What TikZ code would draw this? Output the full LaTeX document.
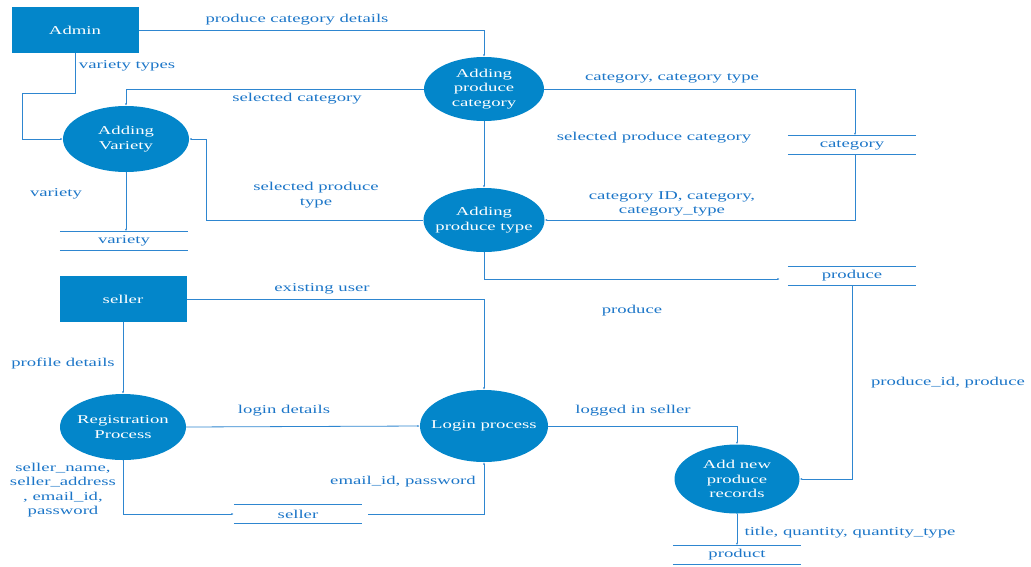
\documentclass[tikz,border=0pt]{standalone}
\usepackage{fontspec}
\setmainfont{Liberation Serif}[FakeStretch=1.56]
\usetikzlibrary{
  arrows.meta,
  shapes.geometric,
  positioning
}
\definecolor{dfdfill}{RGB}{3,134,202}
\definecolor{dfdline}{RGB}{46,134,208}
\definecolor{dfdtext}{RGB}{28,118,200}

\begin{document}
\begin{tikzpicture}[
  x=1pt,
  y=-1pt,
  >={Latex[length=2.5pt,width=2pt]},
  every node/.style={font=\fontsize{12}{14.5}\selectfont},
  entity/.style={rectangle, fill=dfdfill, text=white,
    minimum width=127, minimum height=46, inner sep=0pt},
  process/.style={ellipse, fill=dfdfill, text=white, align=center,
    inner sep=0pt},
  store/.style={minimum width=128, minimum height=19, inner sep=0pt,
    text=dfdtext,
    append after command={
      (\tikzlastnode.north west) edge[dfdline, thick] (\tikzlastnode.north east)
      (\tikzlastnode.south west) edge[dfdline, thick] (\tikzlastnode.south east)}},
  flow/.style={->, dfdline, thick},
  lbl/.style={text=dfdtext, align=center, inner sep=0pt, yshift=-2pt}
]
  \useasboundingbox (0,0) rectangle (1031,566);

  % External entities.
  \node[entity] (admin) at (75,30) {Admin};
  \node[entity] (seller) at (123,299) {seller};

  % Processes.
  \node[process, minimum width=120, minimum height=64] (apc) at (484,89)
    {Adding\\produce\\category};
  \node[process, minimum width=126, minimum height=66] (av) at (126,139)
    {Adding\\Variety};
  \node[process, minimum width=121, minimum height=64, inner xsep=-6pt]
    (apt) at (484,220) {Adding\\produce type};
  \node[process, minimum width=126, minimum height=66, inner xsep=-1.5pt]
    (reg) at (123,427) {Registration\\Process};
  \node[process, minimum width=128, minimum height=72, inner xsep=-7.5pt]
    (login) at (484,426) {Login process};
  \node[process, minimum width=125, minimum height=69] (anpr) at (737,479)
    {Add new\\produce\\records};

  % Data stores.
  \node[store] (catst) at (852,145) {category};
  \node[store] (varst) at (124,241) {variety};
  \node[store] (prodst) at (852,276) {produce};
  \node[store] (sellst) at (298,514) {seller};
  \node[store] (pst) at (737,555) {product};

  % Flows of the category part.
  \draw[flow] (admin.east) -| (apc.north);
  \draw[flow] (admin.south) |- (22,93) |- (av.west);
  \draw[flow] (apc.west) -| (av.north);
  \draw[flow] (apc.east) -| ([xshift=3]catst.north);
  \draw[flow] (apc.south) -- (apt.north);
  \draw[flow] ([xshift=3]catst.south) |- (apt.east);
  \draw[flow] (apt.west) -- (206,220) |- (av.east);
  \draw[flow] (av.south) -- (av.south |- varst.north);
  \draw[flow] (apt.south) |- ([xshift=-8,yshift=-3]prodst.west);

  % Flows of the seller part.
  \draw[flow] (seller.east) -| (login.north);
  \draw[flow] (seller.south) -- (reg.north);
  \draw[flow] (reg.east) -- (login.west);
  \draw[flow] (reg.south) |- (sellst.west);
  \draw[flow] ([xshift=6]sellst.east) -| (login.south);
  \draw[flow] (login.east) -| (anpr.north);
  \draw[flow] (prodst.south) |- (anpr.east);
  \draw[flow] (anpr.south) -- (anpr.south |- pst.north);

  % Flow labels.
  \node[lbl] (l1) at (297,18) {produce category details};
  \node[lbl] (l2) at (127,64) {variety types};
  \node[lbl] (l3) at (297,97) {selected category};
  \node[lbl] (l4) at (672,76) {category, category type};
  \node[lbl] (l5) at (654,136) {selected produce category};
  \node[lbl] (l6) at (672,202) {category ID, category,\\category\_type};
  \node[lbl] (l7) at (316,193) {selected produce\\type};
  \node[lbl] (l8) at (56,192) {variety};
  \node[lbl] (l9) at (632,309) {produce};
  \node[lbl] (l10) at (322,287) {existing user};
  \node[lbl] (l11) at (63,362) {profile details};
  \node[lbl] (l12) at (284,409) {login details};
  \node[lbl] (l13) at (63,488)
    {seller\_name,\\seller\_address\\, email\_id,\\password};
  \node[lbl] (l14) at (403,480) {email\_id, password};
  \node[lbl] (l15) at (633,409) {logged in seller};
  \node[lbl] (l16) at (948,381) {produce\_id, produce};
  \node[lbl] (l17) at (850,531) {title, quantity, quantity\_type};

\end{tikzpicture}
\end{document}
